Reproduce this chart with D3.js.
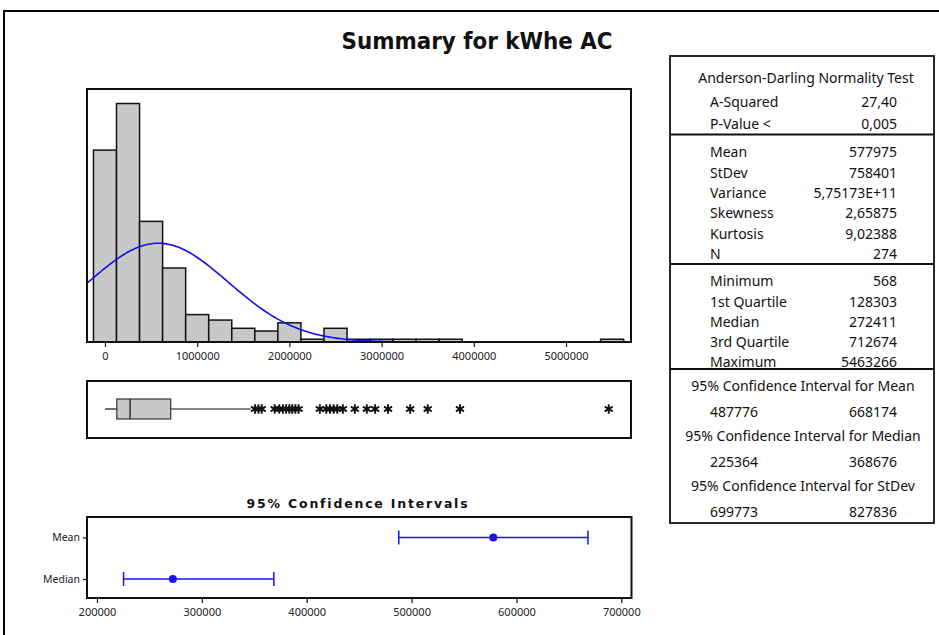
<!DOCTYPE html>
<html><head><meta charset="utf-8">
<script src="https://cdn.jsdelivr.net/npm/d3@7"></script>
<style>body{margin:0;background:#fff}svg{display:block}</style>
</head><body><svg id="chart" width="939" height="635"></svg>
<script>
// ---------- data ----------
const binCenters = [0,250000,500000,750000,1000000,1250000,1500000,1750000,2000000,2250000,2500000,2750000,3000000,3250000,3500000,3750000,4000000,4250000,4500000,4750000,5000000,5250000,5500000];
const binCounts  = [70,87,44,27,10,8,5,4,7,1,5,1,1,1,1,1,0,0,0,0,0,0,1];
const binWidth = 250000;
const histTicks = [0,1000000,2000000,3000000,4000000,5000000];
const normalMean = 577975, normalStDev = 758401, sampleN = 274;
const boxNames  = ["min","q1","median","q3","upperWhisker"];
const boxValues = [568,128303,272411,712674,1580000];
const outliers = [1627000,1665000,1700000,1840000,1890000,1930000,1965000,2000000,2030000,2065000,2100000,2330000,2400000,2440000,2480000,2520000,2580000,2710000,2840000,2930000,3070000,3310000,3500000,3850000,5463266];
const ciLabels  = ["Mean","Median"];
const ciCenters = [577975,272411];
const ciLower   = [487776,225364];
const ciUpper   = [668174,368676];
const ciTicks   = [200000,300000,400000,500000,600000,700000];
const adLabels = ["A-Squared","P-Value <"];
const adValues = ["27,40","0,005"];
const descLabels = ["Mean","StDev","Variance","Skewness","Kurtosis","N"];
const descValues = ["577975","758401","5,75173E+11","2,65875","9,02388","274"];
const quartLabels = ["Minimum","1st Quartile","Median","3rd Quartile","Maximum"];
const quartValues = ["568","128303","272411","712674","5463266"];
const ciTitles = ["95% Confidence Interval for Mean","95% Confidence Interval for Median","95% Confidence Interval for StDev"];
const ciTabLow  = ["487776","225364","699773"];
const ciTabHigh = ["668174","368676","827836"];

// ---------- drawing ----------
const svg = d3.select("#chart");
const FONT = "'Noto Sans', 'DejaVu Sans', sans-serif";
svg.append("rect").attr("width",939).attr("height",635).attr("fill","#fff");
svg.append("rect").attr("x",4).attr("y",11).attr("width",1000).attr("height",700)
  .attr("fill","none").attr("stroke","#000").attr("stroke-width",2);

svg.append("text").attr("x",477).attr("y",48.5).attr("text-anchor","middle")
  .attr("font-family","'DejaVu Sans', sans-serif").attr("font-weight","bold").attr("font-size",23)
  .attr("textLength",271).attr("lengthAdjust","spacingAndGlyphs")
  .attr("fill","#111").text("Summary for kWhe AC");

// histogram
const H = {l:87, r:631, t:89, b:342};
const x = d3.scaleLinear().domain([-195000,5705000]).range([H.l,H.r]);
const y = d3.scaleLinear().domain([0,92.3]).range([H.b,H.t]);
const gH = svg.append("g");
gH.append("rect").attr("x",H.l).attr("y",H.t).attr("width",H.r-H.l).attr("height",H.b-H.t).attr("fill","#fff");
gH.selectAll("rect.bar").data(binCenters.map((c,i)=>({c,n:binCounts[i]})).filter(d=>d.n>0))
  .join("rect").attr("class","bar")
  .attr("x",d=>x(d.c-binWidth/2)).attr("width",d=>x(d.c+binWidth/2)-x(d.c-binWidth/2))
  .attr("y",d=>y(d.n)).attr("height",d=>y(0)-y(d.n))
  .attr("fill","#c8c8c8").attr("stroke","#111").attr("stroke-width",1.5);
svg.append("clipPath").attr("id","hclip").append("rect").attr("x",H.l).attr("y",H.t).attr("width",H.r-H.l).attr("height",H.b-H.t);
const pdf = v => sampleN*binWidth/(normalStDev*Math.sqrt(2*Math.PI))*Math.exp(-0.5*((v-normalMean)/normalStDev)**2);
const xs = d3.range(x.domain()[0], x.domain()[1], 20000);
gH.append("path").datum(xs).attr("clip-path","url(#hclip)")
  .attr("d",d3.line().x(v=>x(v)).y(v=>y(pdf(v))))
  .attr("fill","none").attr("stroke","#1010ee").attr("stroke-width",1.6);
gH.append("rect").attr("x",H.l).attr("y",H.t).attr("width",H.r-H.l).attr("height",H.b-H.t)
  .attr("fill","none").attr("stroke","#111").attr("stroke-width",2);
const axH = gH.append("g").attr("transform",`translate(0,${H.b})`)
  .call(d3.axisBottom(x).tickValues(histTicks).tickFormat(d3.format("d")).tickSize(5).tickSizeOuter(0));
axH.select(".domain").remove();
axH.selectAll("line").attr("stroke","#111").attr("stroke-width",1.2);
axH.selectAll("text").attr("font-family",FONT).attr("font-size",11).attr("fill","#222").attr("dy","0.9em");

// boxplot
const B = {t:381, b:438, cy:409, h:20};
const gB = svg.append("g");
gB.append("rect").attr("x",H.l).attr("y",B.t).attr("width",H.r-H.l).attr("height",B.b-B.t)
  .attr("fill","#fff").attr("stroke","#111").attr("stroke-width",2);
const bv = Object.fromEntries(boxNames.map((n,i)=>[n,boxValues[i]]));
gB.append("line").attr("x1",x(bv.min)).attr("x2",x(bv.q1)).attr("y1",B.cy).attr("y2",B.cy).attr("stroke","#111").attr("stroke-width",1.2);
gB.append("line").attr("x1",x(bv.q3)).attr("x2",x(bv.upperWhisker)).attr("y1",B.cy).attr("y2",B.cy).attr("stroke","#111").attr("stroke-width",1.2);
gB.append("rect").attr("x",x(bv.q1)).attr("y",B.cy-B.h/2).attr("width",x(bv.q3)-x(bv.q1)).attr("height",B.h)
  .attr("fill","#c8c8c8").attr("stroke","#333").attr("stroke-width",1.2);
gB.append("line").attr("x1",x(bv.median)).attr("x2",x(bv.median)).attr("y1",B.cy-B.h/2).attr("y2",B.cy+B.h/2).attr("stroke","#222").attr("stroke-width",1.4);
const star = d3.symbol(d3.symbolAsterisk, 60);
gB.selectAll("path.out").data(outliers).join("path").attr("class","out")
  .attr("transform",v=>`translate(${x(v)},${B.cy})`).attr("d",star)
  .attr("fill","none").attr("stroke","#111").attr("stroke-width",1.9);

// CI plot
const C = {l:87, r:631.5, t:517, b:598};
const xc = d3.scaleLinear().domain([190500,709700]).range([C.l,C.r]);
const yc = d3.scalePoint().domain(ciLabels).range([537.5,579]);
const gC = svg.append("g");
gC.append("text").attr("x",358).attr("y",508).attr("text-anchor","middle")
  .attr("font-family","'DejaVu Sans', sans-serif").attr("font-weight","bold").attr("font-size",12.5)
  .attr("letter-spacing",1.8).attr("fill","#111").text("95% Confidence Intervals");
gC.append("rect").attr("x",C.l).attr("y",C.t).attr("width",C.r-C.l).attr("height",C.b-C.t)
  .attr("fill","#fff").attr("stroke","#111").attr("stroke-width",2);
const axC = gC.append("g").attr("transform",`translate(0,${C.b})`)
  .call(d3.axisBottom(xc).tickValues(ciTicks).tickFormat(d3.format("d")).tickSize(5).tickSizeOuter(0));
axC.select(".domain").remove();
axC.selectAll("line").attr("stroke","#111").attr("stroke-width",1.2);
axC.selectAll("text").attr("font-family",FONT).attr("font-size",11).attr("fill","#222").attr("dy","0.9em");
const ayC = gC.append("g").attr("transform",`translate(${C.l},0)`)
  .call(d3.axisLeft(yc).tickSize(4).tickSizeOuter(0));
ayC.select(".domain").remove();
ayC.selectAll("line").attr("stroke","#111").attr("stroke-width",1.2);
ayC.selectAll("text").attr("font-family",FONT).attr("font-size",10.5).attr("fill","#222");
const ciData = ciLabels.map((l,i)=>({l,c:ciCenters[i],lo:ciLower[i],hi:ciUpper[i]}));
const BLUE = "#1414f0";
ciData.forEach(d=>{
  const yy = yc(d.l);
  gC.append("line").attr("x1",xc(d.lo)).attr("x2",xc(d.hi)).attr("y1",yy).attr("y2",yy).attr("stroke",BLUE).attr("stroke-width",1.5);
  [d.lo,d.hi].forEach(v=>gC.append("line").attr("x1",xc(v)).attr("x2",xc(v)).attr("y1",yy-7).attr("y2",yy+7).attr("stroke",BLUE).attr("stroke-width",1.5));
  gC.append("circle").attr("cx",xc(d.c)).attr("cy",yy).attr("r",4).attr("fill",BLUE);
});

// table
const T = {l:670, r:934, t:56, b:523, labX:710, valX:897};
const gT = svg.append("g").attr("font-family",FONT).attr("font-size",14).attr("fill","#111");
gT.append("rect").attr("x",T.l).attr("y",T.t).attr("width",T.r-T.l).attr("height",T.b-T.t)
  .attr("fill","#fff").attr("stroke","#111").attr("stroke-width",1.8);
[134.5,264,369].forEach(yy=>gT.append("line").attr("x1",T.l).attr("x2",T.r).attr("y1",yy).attr("y2",yy).attr("stroke","#111").attr("stroke-width",2));
const txt = (s,xx,yy,anchor)=>gT.append("text").attr("x",xx).attr("y",yy).attr("dy","0.35em").attr("text-anchor",anchor).text(s);
txt("Anderson-Darling Normality Test",(T.l+T.r)/2+4,78,"middle");
const rows = (labels,values,y0,step)=>labels.forEach((l,i)=>{txt(l,T.labX,y0+i*step,"start");txt(values[i],T.valX,y0+i*step,"end");});
rows(adLabels,adValues,102,22);
rows(descLabels,descValues,152.5,20.3);
rows(quartLabels,quartValues,281.5,20.1);
ciTitles.forEach((t,i)=>{
  const y0 = 386.5 + i*50;
  txt(t,(T.l+T.r)/2+1,y0,"middle");
  txt(ciTabLow[i],T.labX,y0+25.5,"start");
  txt(ciTabHigh[i],T.valX,y0+25.5,"end");
});
</script></body></html>
